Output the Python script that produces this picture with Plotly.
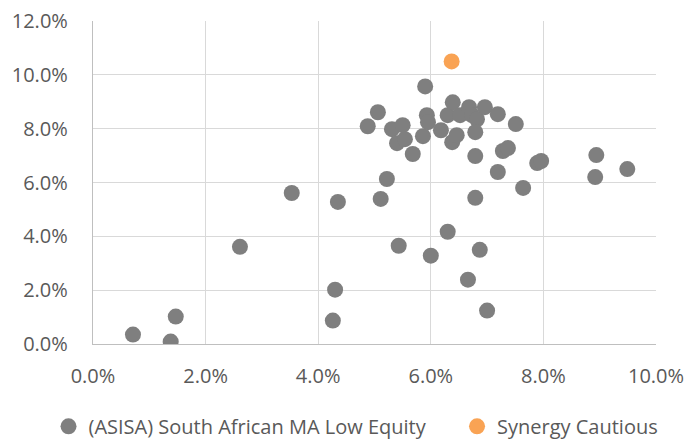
import plotly.graph_objects as go

peer_x = [0.71, 1.38, 1.47, 2.61, 3.53, 4.26, 4.30, 4.35, 4.88, 5.06,
          5.11, 5.22, 5.31, 5.40, 5.43, 5.50, 5.54, 5.68, 5.86, 5.90,
          5.93, 5.95, 6.00, 6.18, 6.30, 6.30, 6.38, 6.39, 6.46, 6.52,
          6.66, 6.68, 6.73, 6.82, 6.79, 6.79, 6.79, 6.87, 7.00, 6.96,
          7.19, 7.19, 7.28, 7.37, 7.51, 7.64, 7.89, 7.96, 8.94, 8.92, 9.49]
peer_y = [0.35, 0.09, 1.02, 3.61, 5.61, 0.87, 2.02, 5.28, 8.09, 8.61,
          5.39, 6.13, 7.98, 7.46, 3.65, 8.13, 7.61, 7.06, 7.72, 9.57,
          8.50, 8.24, 3.28, 7.94, 4.17, 8.50, 7.50, 8.98, 7.76, 8.50,
          2.39, 8.80, 8.50, 8.35, 7.87, 6.98, 5.43, 3.50, 1.24, 8.80,
          8.54, 6.39, 7.17, 7.28, 8.17, 5.80, 6.72, 6.80, 7.02, 6.20, 6.50]

fund_x = [6.37]
fund_y = [10.50]

peer_name = "(ASISA) South African MA Low Equity"
fund_name = "Synergy Cautious"

x_ticks = [0, 2, 4, 6, 8, 10]
x_tick_labels = ["0.0%", "2.0%", "4.0%", "6.0%", "8.0%", "10.0%"]
y_ticks = [0, 2, 4, 6, 8, 10, 12]
y_tick_labels = ["0.0%", "2.0%", "4.0%", "6.0%", "8.0%", "10.0%", "12.0%"]

FONT = "Open Sans"
FSIZE = 20

fig = go.Figure()
fig.add_trace(go.Scatter(x=peer_x, y=peer_y, mode="markers", name=peer_name,
                         legend="legend",
                         marker=dict(color="#7f7f7f", size=16, line=dict(width=0))))
fig.add_trace(go.Scatter(x=fund_x, y=fund_y, mode="markers", name=fund_name,
                         legend="legend2",
                         marker=dict(color="#F9A354", size=16, line=dict(width=0))))

axis_common = dict(
    showgrid=True, gridcolor="#d9d9d9", gridwidth=1.3,
    zeroline=False, showline=True, linecolor="#bfbfbf", linewidth=1.3,
    tickfont=dict(family=FONT, size=FSIZE, color="#595959"),
    ticks="", automargin=False,
)

fig.update_xaxes(range=[0, 10], tickvals=x_ticks, ticktext=x_tick_labels,
                 ticklabelstandoff=14, **axis_common)
fig.update_yaxes(range=[0, 12], tickvals=y_ticks, ticktext=y_tick_labels,
                 ticklabelstandoff=20, **axis_common)

legend_common = dict(orientation="h", y=-0.255, yanchor="middle",
                     font=dict(family=FONT, size=FSIZE, color="#595959"),
                     itemwidth=30, tracegroupgap=0, bgcolor="rgba(0,0,0,0)")

fig.update_layout(
    width=699, height=439,
    margin=dict(l=93, r=43, t=21, b=95, autoexpand=False),
    plot_bgcolor="white", paper_bgcolor="white",
    showlegend=True,
    legend=dict(x=-0.079, xanchor="left", **legend_common),
    legend2=dict(x=0.6466, xanchor="left", **legend_common),
    font=dict(family=FONT, color="#595959"),
)

fig.write_html("out.html",
               config={"displayModeBar": False},
               post_script="document.body.style.margin='0';document.body.style.overflow='hidden';")
